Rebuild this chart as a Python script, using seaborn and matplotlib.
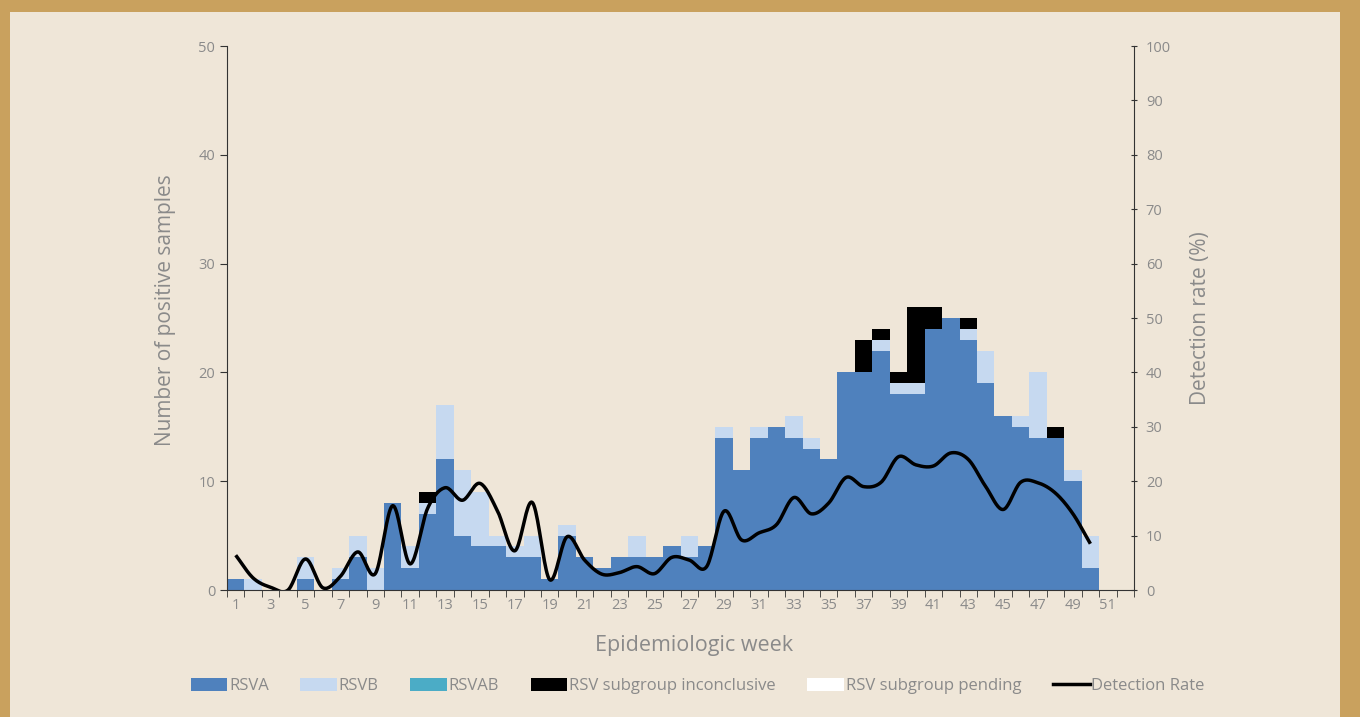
import numpy as np
import pandas as pd
import matplotlib
matplotlib.use('Agg')
import matplotlib.pyplot as plt
import seaborn as sns
from matplotlib.patches import Patch, Rectangle
from matplotlib.lines import Line2D

# Data (epidemiologic weeks 1-52)
weeks = list(range(1, 53))
rsva = [1, 0, 0, 0, 1, 0, 1, 3, 0, 8, 2, 7, 12, 5, 4, 4, 3, 3, 1, 5, 3, 2, 3, 3, 3, 4,
        3, 4, 14, 11, 14, 15, 14, 13, 12, 20, 20, 22, 18, 18, 24, 25, 23, 19, 16, 15, 14, 14, 10, 2, 0, 0]
rsvb = [0, 1, 0, 0, 2, 0, 1, 2, 2, 0, 2, 1, 5, 6, 5, 1, 1, 2, 0, 1, 0, 0, 0, 2, 0, 0,
        2, 0, 1, 0, 1, 0, 2, 1, 0, 0, 0, 1, 1, 1, 0, 0, 1, 3, 0, 1, 6, 0, 1, 3, 0, 0]
rsvab = [0] * 52
inconclusive = [0, 0, 0, 0, 0, 0, 0, 0, 0, 0, 0, 1, 0, 0, 0, 0, 0, 0, 0, 0, 0, 0, 0, 0, 0, 0,
                0, 0, 0, 0, 0, 0, 0, 0, 0, 0, 3, 1, 1, 7, 2, 0, 1, 0, 0, 0, 0, 1, 0, 0, 0, 0]
pending = [0] * 52
# detection rate (%) for weeks 1-50
rate = [6.4, 2.2, 0.5, 0, 5.7, 0.4, 2.5, 7, 3, 15.5, 4.8, 15, 18.8, 16.5, 19.6, 14.6, 7.2, 16.1, 1.9, 9.8,
        5.5, 2.9, 3.2, 4.3, 3, 6, 5.5, 4.3, 14.5, 9.2, 10.5, 12, 17, 14, 16, 20.7, 19, 19.8, 24.5, 23,
        22.8, 25.2, 24, 19, 14.8, 19.8, 19.7, 17.8, 14, 8.5]

series = [('RSVA', rsva, '#4F81BD'), ('RSVB', rsvb, '#C6D9F0'), ('RSVAB', rsvab, '#4BACC6'),
          ('RSV subgroup inconclusive', inconclusive, '#000000'),
          ('RSV subgroup pending', pending, '#FFFFFF')]

grey = '#8A8A8A'
plt.rcParams['font.family'] = ['Open Sans', 'DejaVu Sans']

fig = plt.figure(figsize=(13.6, 7.17), dpi=100)
fig.patch.set_facecolor('#C9A15E')
fig.add_artist(Rectangle((10 / 1360, 0), 1 - 30 / 1360, 1 - 12 / 717, transform=fig.transFigure,
                         facecolor='#EFE6D8', edgecolor='none', zorder=0))

ax = fig.add_axes([227 / 1360, 1 - 590 / 717, (1134 - 227) / 1360, (590 - 46) / 717])
ax.set_facecolor('none')

df = pd.DataFrame({'week': weeks})
cum = np.zeros(52)
cums = []
for name, vals, col in series:
    cum = cum + np.array(vals)
    cums.append((name, cum.copy(), col))

# draw cumulative totals from top down so each layer covers the one above it
for name, c, col in reversed(cums):
    sns.barplot(x=df['week'], y=c, color=col, width=1.0, saturation=1, linewidth=0, ax=ax)

ax.set_xlim(-0.5, 51.5)
ax.set_ylim(0, 50)
ax.set_yticks(range(0, 51, 10))
ax.set_xticks(range(0, 52, 2), labels=[str(w) for w in weeks[::2]])
ax.set_xticks(np.arange(-0.5, 52, 1), minor=True)
ax.tick_params(axis='x', which='major', length=0, labelsize=10.5, labelcolor=grey, pad=6)
ax.tick_params(axis='x', which='minor', length=5, color='#333333')
ax.tick_params(axis='y', labelsize=10.5, labelcolor=grey, length=5, color='#333333')
ax.set_xlabel('Epidemiologic week', fontsize=15.5, color=grey)
ax.xaxis.set_label_coords(0.515, -0.083)
ax.set_ylabel('Number of positive samples', fontsize=15, color=grey)
ax.yaxis.set_label_coords(-0.056, 0.515)
for s in ['top', 'right']:
    ax.spines[s].set_visible(False)
ax.spines['left'].set_color('#333333')
ax.spines['bottom'].set_color('#333333')
ax.grid(False)

# smoothed detection-rate line (Catmull-Rom through the weekly points)
def smooth(xp, yp, n=20):
    xp = np.asarray(xp, float)
    yp = np.asarray(yp, float)
    px = np.concatenate([[2 * xp[0] - xp[1]], xp, [2 * xp[-1] - xp[-2]]])
    py = np.concatenate([[2 * yp[0] - yp[1]], yp, [2 * yp[-1] - yp[-2]]])
    xs, ys = [], []
    t = np.linspace(0, 1, n, endpoint=False)
    for i in range(1, len(px) - 2):
        for arr, out in ((px, xs), (py, ys)):
            p0, p1, p2, p3 = arr[i - 1], arr[i], arr[i + 1], arr[i + 2]
            out.extend(0.5 * (2 * p1 + (-p0 + p2) * t + (2 * p0 - 5 * p1 + 4 * p2 - p3) * t ** 2
                              + (-p0 + 3 * p1 - 3 * p2 + p3) * t ** 3))
    xs.append(xp[-1])
    ys.append(yp[-1])
    return np.array(xs), np.array(ys)

ax2 = ax.twinx()
sx, sy = smooth(np.arange(len(rate)), rate)
ax2.plot(sx, sy, color='black', lw=2.5, solid_capstyle='butt')
ax2.set_ylim(0, 100)
ax2.set_yticks(range(0, 101, 10))
ax2.tick_params(axis='y', labelsize=10.5, labelcolor=grey, length=5, direction='inout', color='#333333', pad=6)
ax2.set_ylabel('Detection rate (%)', fontsize=15, color=grey, labelpad=14)
for s in ['top', 'left', 'bottom']:
    ax2.spines[s].set_visible(False)
ax2.spines['right'].set_color('#333333')
ax2.grid(False)
ax2.set_xlim(-0.5, 51.5)

handles = [Patch(facecolor=col, edgecolor='none', label=name) for name, vals, col in series]
handles.append(Line2D([0], [0], color='black', lw=2.5, label='Detection Rate'))
leg = fig.legend(handles=handles, loc='center', bbox_to_anchor=(0.513, 1 - 686 / 717), ncol=6,
                 frameon=False, fontsize=12, handlelength=2.2, handleheight=0.8,
                 handletextpad=0.1, columnspacing=1.9)
for t in leg.get_texts():
    t.set_color(grey)

fig.savefig('out.png', dpi=100, facecolor=fig.get_facecolor())
